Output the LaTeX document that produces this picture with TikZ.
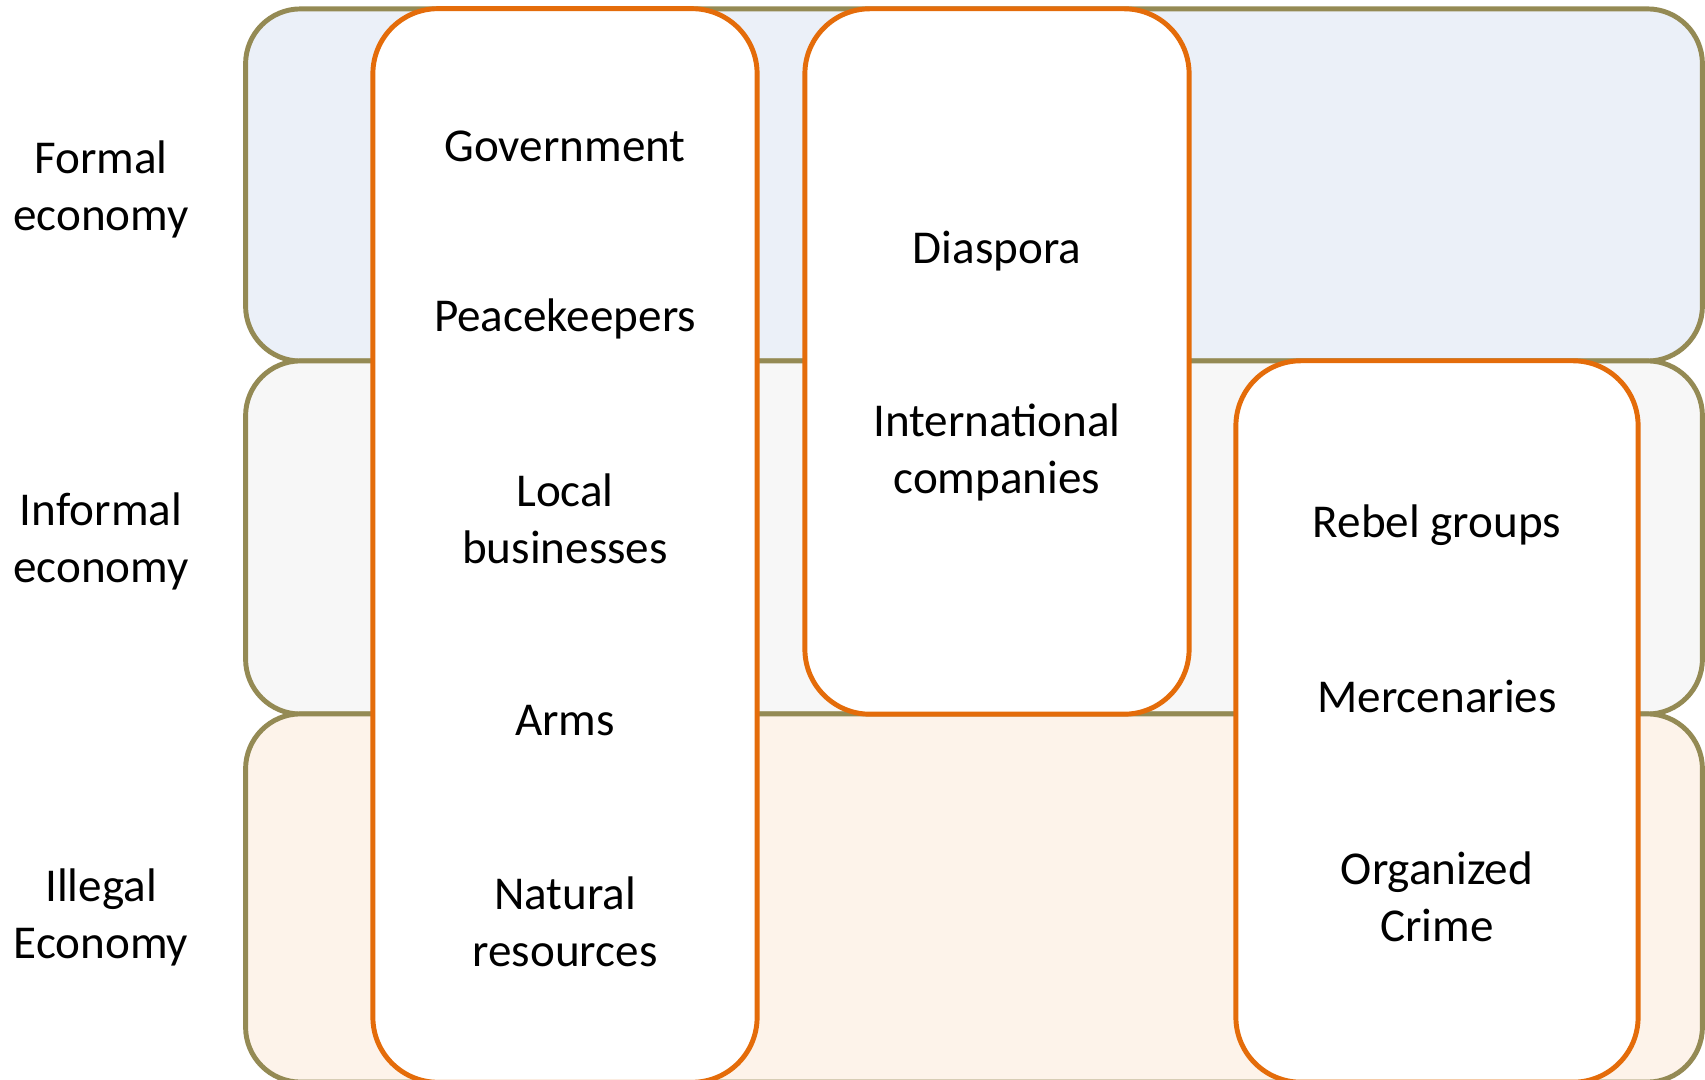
\documentclass[tikz,border=0pt]{standalone}
\usepackage{fontspec}
\setmainfont{Carlito}
\usetikzlibrary{positioning}
\definecolor{bandline}{HTML}{948A54}
\definecolor{colline}{HTML}{E46C0A}
\definecolor{formalfill}{HTML}{EBF0F8}
\definecolor{informalfill}{HTML}{F7F7F7}
\definecolor{illegalfill}{HTML}{FDF3EA}

\begin{document}
\begin{tikzpicture}[x=0.01cm, y=-0.01cm, every node/.style={align=center}]
\tikzset{
  band/.style={
    rectangle, draw=bandline, line width=1.4pt, rounded corners=0.55cm,
    minimum width=14.56cm, inner sep=0pt
  },
  column/.style={
    rectangle, draw=colline, line width=1.4pt, rounded corners=0.65cm,
    fill=white, inner sep=0pt
  },
  txt/.style={font=\fontsize{13.4}{16.2}\selectfont}
}
\useasboundingbox (0,0) rectangle (1705,1080);
\clip (0,0) rectangle (1705,1080);

% economy bands
\node (formalband) [band, fill=formalfill, minimum height=3.52cm] at (974,185) {};
\node (informalband) [band, fill=informalfill, minimum height=3.53cm] at (974,537.5) {};
\node (illegalband) [band, fill=illegalfill, minimum height=3.68cm] at (974,898) {};

% actor columns
\node (leftcol) [column, minimum width=3.84cm, minimum height=10.73cm] at (565,545.5) {};
\node (midcol) [column, minimum width=3.84cm, minimum height=7.05cm] at (997,361.5) {};
\node (rightcol) [column, minimum width=4.02cm, minimum height=7.21cm] at (1437,721.5) {};

% band labels
\node (formal) [txt] at (101,189) {Formal\\economy};
\node (informal) [txt] at (101,541) {Informal\\economy};
\node (illegal) [txt] at (101,917) {Illegal\\Economy};

\node (gov) [txt] at (565,146) {Government};
\node (peace) [txt] at (565,319) {Peacekeepers};
\node (localbiz) [txt] at (565,519) {Local\\businesses};
\node (arms) [txt] at (565,721) {Arms};
\node (natres) [txt] at (565,922) {Natural\\resources};

\node (diaspora) [txt] at (997,251) {Diaspora};
\node (intl) [txt] at (997,452) {International\\companies};

\node (rebels) [txt] at (1437,525) {Rebel groups};
\node (mercs) [txt] at (1437,696) {Mercenaries};
\node (crime) [txt] at (1437,897) {Organized\\Crime};
\end{tikzpicture}
\end{document}
